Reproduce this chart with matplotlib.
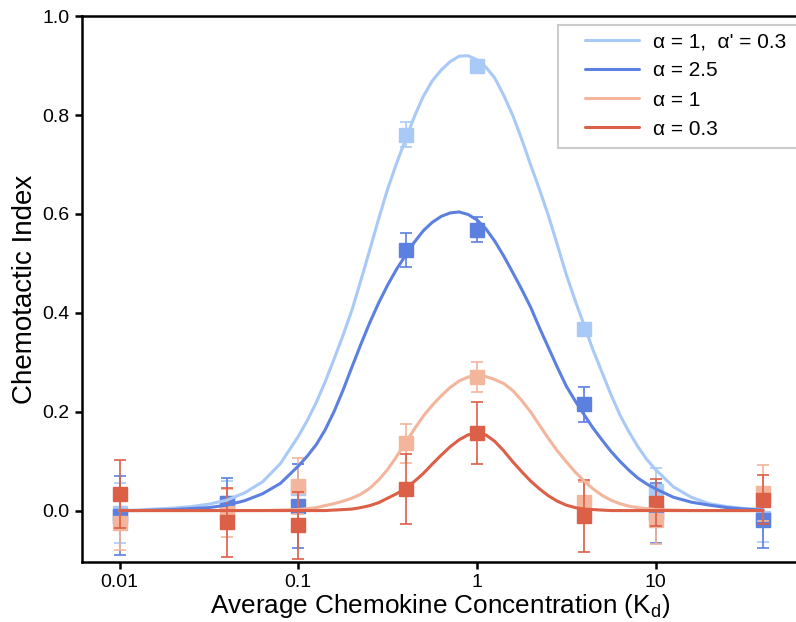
import numpy as np
import matplotlib
matplotlib.use("Agg")
import matplotlib.pyplot as plt
from matplotlib.patches import Rectangle

plt.rcParams['font.family'] = ['Liberation Sans', 'DejaVu Sans']
plt.rcParams['mathtext.fontset'] = 'custom'
plt.rcParams['mathtext.rm'] = 'Liberation Sans'

# ---------------- data ----------------
series_labels = ["α = 1,  α' = 0.3", "α = 2.5", "α = 1", "α = 0.3"]
series_colors = ["#a9c9f7", "#5c80e0", "#f3b59b", "#dc5f48"]

conc = [0.01, 0.04, 0.1, 0.4, 1, 4, 10, 40]

mean_lightblue = [-0.005, 0.015, 0.045, 0.760, 0.900, 0.367, 0.040, -0.015]
err_lightblue = [0.060, 0.045, 0.050, 0.025, 0.010, 0.010, 0.046, 0.048]

mean_blue = [-0.010, 0.015, 0.009, 0.527, 0.568, 0.215, -0.005, -0.020]
err_blue = [0.080, 0.050, 0.085, 0.034, 0.025, 0.035, 0.060, 0.055]

mean_lightorange = [-0.025, -0.005, 0.050, 0.136, 0.270, 0.018, -0.020, 0.035]
err_lightorange = [0.055, 0.048, 0.056, 0.040, 0.030, 0.040, 0.047, 0.057]

mean_red = [0.033, -0.024, -0.030, 0.044, 0.157, -0.011, 0.016, 0.022]
err_red = [0.069, 0.069, 0.068, 0.071, 0.062, 0.072, 0.048, 0.050]

# fitted curves (log10 of concentration)
curve_log10_conc = [-2.0, -1.9, -1.8, -1.7, -1.6, -1.5, -1.4, -1.3, -1.2, -1.1,
                    -1.00, -0.95, -0.90, -0.85, -0.80, -0.75, -0.70, -0.65, -0.60, -0.55,
                    -0.50, -0.45, -0.40, -0.35, -0.30, -0.25, -0.20, -0.15, -0.10, -0.05,
                    0.00, 0.05, 0.10, 0.15, 0.20, 0.25, 0.30, 0.35, 0.40, 0.45,
                    0.50, 0.55, 0.60, 0.65, 0.70, 0.75, 0.80, 0.85, 0.90, 0.95,
                    1.00, 1.1, 1.2, 1.3, 1.4, 1.5, 1.602]

curve_lightblue = [0.000, 0.001, 0.003, 0.005, 0.008, 0.013, 0.021, 0.036, 0.058, 0.095,
                   0.150, 0.182, 0.218, 0.260, 0.306, 0.354, 0.405, 0.465, 0.527, 0.590,
                   0.650, 0.702, 0.750, 0.797, 0.838, 0.869, 0.891, 0.908, 0.919, 0.920,
                   0.912, 0.897, 0.875, 0.840, 0.800, 0.752, 0.700, 0.650, 0.597, 0.538,
                   0.478, 0.425, 0.375, 0.325, 0.280, 0.235, 0.194, 0.160, 0.130, 0.104,
                   0.083, 0.048, 0.027, 0.014, 0.008, 0.004, 0.002]

curve_blue = [0.000, 0.000, 0.001, 0.002, 0.004, 0.006, 0.011, 0.020, 0.034, 0.055,
              0.090, 0.110, 0.133, 0.163, 0.200, 0.243, 0.290, 0.336, 0.380, 0.420,
              0.456, 0.488, 0.516, 0.543, 0.566, 0.583, 0.595, 0.602, 0.604, 0.599,
              0.588, 0.570, 0.545, 0.515, 0.482, 0.448, 0.412, 0.370, 0.330, 0.290,
              0.252, 0.222, 0.194, 0.167, 0.143, 0.120, 0.100, 0.082, 0.066, 0.054,
              0.044, 0.027, 0.017, 0.011, 0.006, 0.003, 0.001]

curve_lightorange = [0.000, 0.000, 0.000, 0.000, 0.000, 0.000, 0.000, 0.000, 0.000, 0.001,
                     0.002, 0.004, 0.006, 0.010, 0.014, 0.019, 0.025, 0.033, 0.045, 0.062,
                     0.083, 0.109, 0.137, 0.165, 0.191, 0.213, 0.232, 0.249, 0.262, 0.270,
                     0.273, 0.271, 0.265, 0.257, 0.243, 0.223, 0.200, 0.173, 0.146, 0.121,
                     0.099, 0.078, 0.060, 0.044, 0.031, 0.021, 0.014, 0.009, 0.006, 0.004,
                     0.002, 0.001, 0.000, 0.000, 0.000, 0.000, 0.000]

curve_red = [0.000, 0.000, 0.000, 0.000, 0.000, 0.000, 0.000, 0.000, 0.000, 0.000,
             0.000, 0.000, 0.000, 0.000, 0.001, 0.002, 0.003, 0.006, 0.010, 0.016,
             0.025, 0.034, 0.045, 0.059, 0.075, 0.094, 0.112, 0.129, 0.143, 0.153,
             0.157, 0.153, 0.140, 0.121, 0.099, 0.079, 0.060, 0.044, 0.030, 0.019,
             0.011, 0.006, 0.003, 0.002, 0.001, 0.000, 0.000, 0.000, 0.000, 0.000,
             0.000, 0.000, 0.000, 0.000, 0.000, 0.000, 0.000]

x_ticks = [0.01, 0.1, 1, 10]
x_tick_labels = ["0.01", "0.1", "1", "10"]
y_ticks = [0.0, 0.2, 0.4, 0.6, 0.8, 1.0]
y_tick_labels = ["0.0", "0.2", "0.4", "0.6", "0.8", "1.0"]

# ---------------- plot ----------------
W, H = 796, 622
fig = plt.figure(figsize=(W / 100, H / 100), dpi=100)
ax = fig.add_axes([0.103, 0.0965, 0.9, 0.8775])

means = [mean_lightblue, mean_blue, mean_lightorange, mean_red]
errs = [err_lightblue, err_blue, err_lightorange, err_red]
curves = [curve_lightblue, curve_blue, curve_lightorange, curve_red]
curve_x = 10 ** np.array(curve_log10_conc)

handles = []
for i, (m, e, c, col, lab) in enumerate(zip(means, errs, curves, series_colors, series_labels)):
    ax.errorbar(conc, m, yerr=e, fmt='s', color=col, ecolor=col, elinewidth=1.2,
                capsize=4.5, capthick=1.2, markersize=9.5, zorder=2 + i)
    h, = ax.plot(curve_x, c, color=col, lw=2.2, zorder=6 + i, label=lab,
                 solid_capstyle='round', solid_joinstyle='round')
    handles.append(h)

ax.set_xscale('log')
ax.set_xlim(10 ** -2.211, 10 ** 1.80)
ax.set_ylim(-0.104, 1.0)
ax.set_xticks(x_ticks)
ax.set_xticklabels(x_tick_labels)
ax.minorticks_off()
ax.set_yticks(y_ticks)
ax.set_yticklabels(y_tick_labels)
ax.tick_params(axis='both', labelsize=14, width=1.8, length=5, direction='out', pad=4)

for s in ['left', 'bottom', 'top']:
    ax.spines[s].set_linewidth(1.8)
ax.spines['right'].set_visible(False)

ax.set_xlabel(r"Average Chemokine Concentration (K$_\mathregular{d}$)", fontsize=18.8, labelpad=0.5)
ax.set_ylabel("Chemotactic Index", fontsize=20, labelpad=3)

# legend frame (runs off the right edge like the reference)
frame = Rectangle((558 / W, 1 - 148 / H), 0.4, (148 - 25) / H, transform=fig.transFigure,
                  facecolor='white', edgecolor='#cccccc', lw=1.5, clip_on=False, zorder=19)
ax.add_patch(frame)

leg = ax.legend(handles=handles, loc='upper left',
                bbox_to_anchor=((583 - 82) / 714, 1 - (32 - 16) / 546),
                fontsize=15, frameon=False, handlelength=2.6,
                borderpad=0, labelspacing=0.49, handletextpad=0.7, borderaxespad=0)
leg.set_zorder(20)

fig.savefig("out.png", dpi=100)
